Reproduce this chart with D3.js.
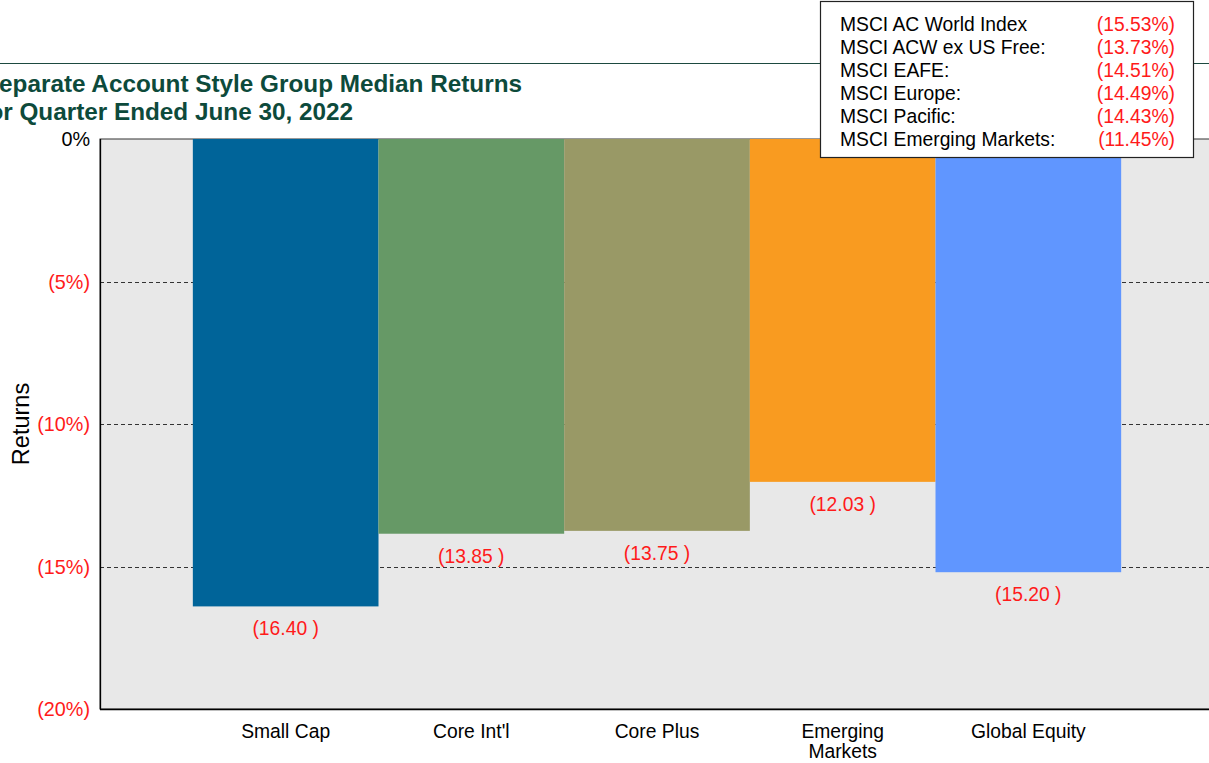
<!DOCTYPE html>
<html>
<head>
<meta charset="utf-8">
<script src="https://cdn.jsdelivr.net/npm/d3@7"></script>
<style>
  body { margin: 0; background: #fff; }
  svg { display: block; font-family: "Liberation Sans", Arial, sans-serif; }
</style>
</head>
<body>
<svg id="chart" width="1209" height="763"></svg>
<script>
// chart data
const categories = ["Small Cap", "Core Int'l", "Core Plus", "Emerging Markets", "Global Equity"];
const values = [-16.40, -13.85, -13.75, -12.03, -15.20];
const barColors = ["#006499", "#669966", "#999966", "#f99b20", "#6096ff"];
const yTicks = [0, -5, -10, -15, -20];
const indexNames = ["MSCI AC World Index", "MSCI ACW ex US Free:", "MSCI EAFE:", "MSCI Europe:", "MSCI Pacific:", "MSCI Emerging Markets:"];
const indexValues = ["(15.53%)", "(13.73%)", "(14.51%)", "(14.49%)", "(14.43%)", "(11.45%)"];

const svg = d3.select("#chart");
const plotLeft = 100, plotTop = 139, plotBottom = 709, plotRight = 1214;
const fs = 19.3;

const x = d3.scaleBand()
    .domain(categories)
    .range([plotLeft, plotRight])
    .paddingInner(0)
    .paddingOuter(0.5);

const y = d3.scaleLinear()
    .domain([0, -20])
    .range([plotTop, plotBottom]);

// header rule and title
svg.append("line")
    .attr("x1", 0).attr("x2", 1209)
    .attr("y1", 63.5).attr("y2", 63.5)
    .attr("stroke", "#1d4a40")
    .attr("stroke-width", 1);

const title = svg.append("g")
    .attr("fill", "#0d4a3b")
    .attr("font-weight", "bold")
    .attr("font-size", 24.3)
    .attr("text-anchor", "end");
title.append("text").attr("x", 522).attr("y", 92).text("Separate Account Style Group Median Returns");
title.append("text").attr("x", 353).attr("y", 120).text("for Quarter Ended June 30, 2022");

// plot background
svg.append("rect")
    .attr("x", plotLeft).attr("y", plotTop)
    .attr("width", plotRight - plotLeft).attr("height", plotBottom - plotTop)
    .attr("fill", "#e8e8e8")
    .attr("stroke", "#333")
    .attr("stroke-width", 1);

// dashed grid
svg.append("g")
  .selectAll("line")
  .data(yTicks.filter(d => d !== 0 && d !== -20))
  .join("line")
    .attr("x1", plotLeft).attr("x2", plotRight)
    .attr("y1", d => Math.round(y(d)) + 0.5)
    .attr("y2", d => Math.round(y(d)) + 0.5)
    .attr("stroke", "#333")
    .attr("stroke-dasharray", "4,3");

// bars
svg.append("g")
  .selectAll("rect")
  .data(categories)
  .join("rect")
    .attr("x", d => x(d))
    .attr("y", y(0))
    .attr("width", x.bandwidth())
    .attr("height", (d, i) => y(values[i]) - y(0))
    .attr("fill", (d, i) => barColors[i]);

// value labels
svg.append("g")
  .selectAll("text")
  .data(categories)
  .join("text")
    .attr("x", d => x(d) + x.bandwidth() / 2)
    .attr("y", (d, i) => y(values[i]) + 29)
    .attr("text-anchor", "middle")
    .attr("font-size", fs)
    .attr("fill", "#ff1a1a")
    .text((d, i) => "(" + Math.abs(values[i]).toFixed(2) + " )");

// axes lines
svg.append("line")
    .attr("x1", plotLeft + 0.5).attr("x2", plotLeft + 0.5)
    .attr("y1", plotTop).attr("y2", plotBottom)
    .attr("stroke", "#000").attr("stroke-width", 1.3);
svg.append("line")
    .attr("x1", plotLeft).attr("x2", 1209)
    .attr("y1", plotBottom + 0.5).attr("y2", plotBottom + 0.5)
    .attr("stroke", "#000").attr("stroke-width", 1.3);

// y tick labels
svg.append("g")
  .selectAll("text")
  .data(yTicks)
  .join("text")
    .attr("x", 90)
    .attr("y", d => y(d) + 7)
    .attr("text-anchor", "end")
    .attr("font-size", 19.8)
    .attr("fill", d => d === 0 ? "#000" : "#ff1a1a")
    .text(d => d === 0 ? "0%" : "(" + Math.abs(d) + "%)");

svg.append("text")
    .attr("transform", "translate(29," + ((plotTop + plotBottom) / 2) + ") rotate(-90)")
    .attr("text-anchor", "middle")
    .attr("font-size", 23.5)
    .attr("fill", "#000")
    .text("Returns");

// x category labels
const xl = svg.append("g")
  .selectAll("text")
  .data(categories)
  .join("text")
    .attr("x", d => x(d) + x.bandwidth() / 2)
    .attr("y", 738)
    .attr("text-anchor", "middle")
    .attr("font-size", fs)
    .attr("fill", "#000");
xl.each(function(d) {
  const words = d === "Emerging Markets" ? ["Emerging", "Markets"] : [d];
  const t = d3.select(this);
  words.forEach((w, i) => {
    t.append("tspan")
      .attr("x", x(d) + x.bandwidth() / 2)
      .attr("dy", i === 0 ? 0 : 20)
      .text(w);
  });
});

// index legend box
const box = svg.append("g");
box.append("rect")
    .attr("x", 820.5).attr("y", 1.5)
    .attr("width", 373).attr("height", 156)
    .attr("fill", "#fff")
    .attr("stroke", "#222")
    .attr("stroke-width", 1.2);
box.selectAll("text.name")
  .data(indexNames)
  .join("text")
    .attr("class", "name")
    .attr("x", 840)
    .attr("y", (d, i) => 31 + i * 23)
    .attr("font-size", fs)
    .attr("fill", "#000")
    .text(d => d);
box.selectAll("text.val")
  .data(indexValues)
  .join("text")
    .attr("class", "val")
    .attr("x", 1175)
    .attr("y", (d, i) => 31 + i * 23)
    .attr("text-anchor", "end")
    .attr("font-size", fs)
    .attr("fill", "#ff1a1a")
    .text(d => d);
</script>
</body>
</html>
